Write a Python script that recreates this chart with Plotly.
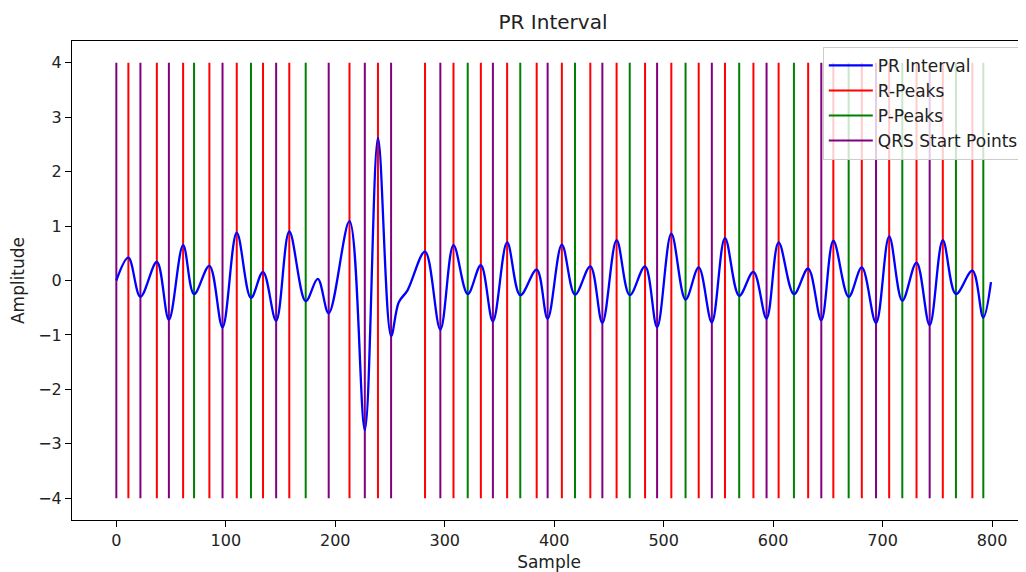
import plotly.graph_objects as go

# PR interval signal at its turning points
signal_x = [0, 11, 22, 37, 48, 61, 71, 85, 97, 110, 123, 134, 146, 158, 173, 184, 194,
            213, 227, 239, 251, 258, 266, 282, 296, 308, 321, 333, 344, 357, 369, 384,
            394, 407, 419, 433, 444, 457, 469, 483, 494, 507, 520, 532, 544, 556, 569,
            582, 594, 605, 619, 632, 644, 655, 669, 681, 694, 706, 718, 731, 743, 755,
            767, 782, 792, 799]
signal_y = [0.0, 0.42, -0.3, 0.34, -0.72, 0.65, -0.25, 0.27, -0.86, 0.88, -0.32, 0.16,
            -0.74, 0.9, -0.38, 0.03, -0.6, 1.09, -2.75, 2.62, -1.02, -0.4, -0.18, 0.53,
            -0.9, 0.65, -0.25, 0.28, -0.75, 0.7, -0.27, 0.2, -0.7, 0.66, -0.26, 0.26,
            -0.78, 0.74, -0.27, 0.26, -0.86, 0.86, -0.35, 0.24, -0.77, 0.78, -0.28, 0.16,
            -0.7, 0.7, -0.25, 0.22, -0.73, 0.73, -0.3, 0.24, -0.78, 0.81, -0.37, 0.33,
            -0.82, 0.74, -0.25, 0.18, -0.68, -0.03]

r_peaks = [11, 37, 61, 85, 110, 134, 158, 213, 239, 282, 308, 333, 357, 384, 407, 433,
           457, 483, 507, 532, 556, 582, 605, 632, 655, 681, 706, 731, 755, 782]
p_peaks = [71, 123, 173, 321, 369, 419, 469, 520, 569, 619, 669, 718, 767, 792]
qrs_starts = [0, 22, 48, 97, 146, 194, 227, 251, 296, 344, 394, 444, 494, 544, 594,
              644, 694, 743]

vline_lo, vline_hi = -4, 4

# the page body puts the figure 8px in from the top-left corner
W, H, OFF = 1026, 572, 8


def vlines(xs):
    x, y = [], []
    for v in xs:
        x += [v, v, None]
        y += [vline_lo, vline_hi, None]
    return x, y


fig = go.Figure()

for name, xs, color, rank in [("R-Peaks", r_peaks, "red", 2),
                              ("P-Peaks", p_peaks, "green", 3),
                              ("QRS Start Points", qrs_starts, "purple", 4)]:
    x, y = vlines(xs)
    fig.add_trace(go.Scatter(x=x, y=y, mode="lines", name=name, legendrank=rank,
                             legendgroup=name, line=dict(color=color, width=2)))

fig.add_trace(go.Scatter(x=signal_x, y=signal_y, mode="lines", name="PR Interval",
                         legendrank=1, legendgroup="pr",
                         line=dict(color="blue", width=2.3, shape="spline")))

axis_style = dict(showgrid=False, zeroline=False, showline=True, linecolor="black",
                  linewidth=1, mirror=True, ticks="outside", ticklen=6, tickcolor="black",
                  tickfont=dict(size=16, color="#222"))

fig.update_xaxes(range=[-40.5, 831], tickvals=list(range(0, 801, 100)),
                 title=dict(text="Sample", font=dict(size=17, color="#222"), standoff=8),
                 **axis_style)
fig.update_yaxes(range=[-4.4, 4.4], tickvals=list(range(-4, 5)),
                 title=dict(text="Amplitude", font=dict(size=17, color="#222"), standoff=10),
                 **axis_style)

fig.update_layout(
    width=W - OFF, height=H - OFF,
    margin=dict(l=72 - OFF, r=0, t=41 - OFF, b=52, autoexpand=False),
    paper_bgcolor="white", plot_bgcolor="white",
    font=dict(family="DejaVu Sans", color="#222"),
    title=dict(text="PR Interval", x=(553 - OFF) / (W - OFF), xref="container",
               xanchor="center", y=1 - (22 - OFF) / (H - OFF), yref="container",
               yanchor="middle", font=dict(size=20, color="#222")),
    legend=dict(x=0.787, y=0.988, xanchor="left", yanchor="top",
                bgcolor="rgba(255,255,255,0.8)", bordercolor="#cccccc", borderwidth=1,
                font=dict(size=17), tracegroupgap=0, itemwidth=44),
    showlegend=True,
)

fig.write_html("out.html")
